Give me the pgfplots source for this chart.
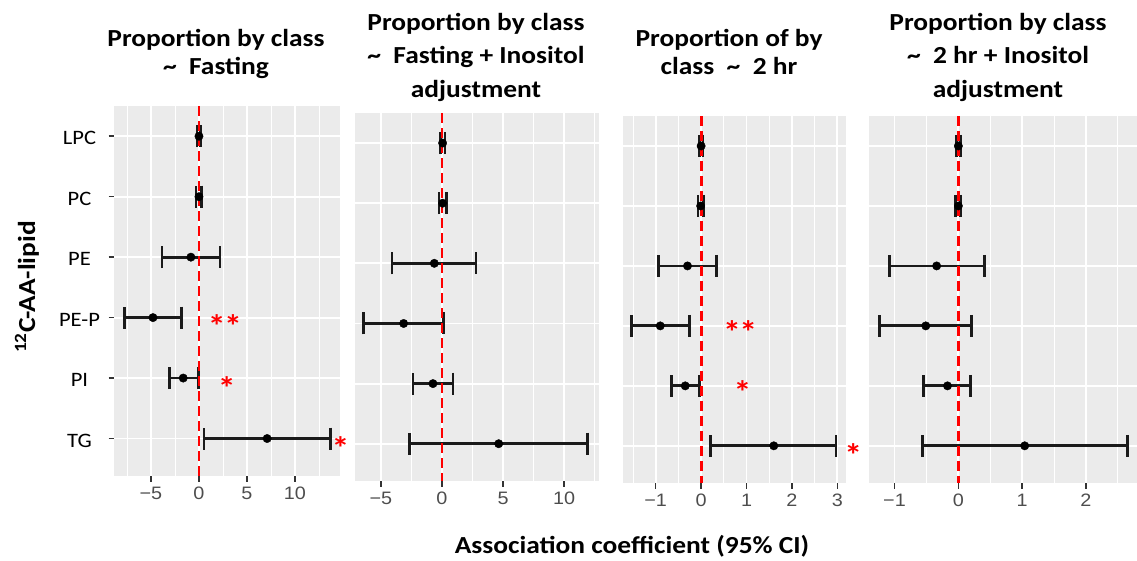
\documentclass[border=0pt]{standalone}
\usepackage{fontspec}
\setmainfont{Carlito}[FakeStretch=1.1]
\newfontfamily\titlefont{Carlito}[FakeStretch=1.12]
\newfontfamily\numfont{Liberation Sans}[FakeStretch=1.1]
\usepackage{pgfplots}
\usepackage{pgfplotstable}
\pgfplotsset{compat=1.18}
\definecolor{panelbg}{HTML}{EBEBEB}
\definecolor{tickgray}{HTML}{4D4D4D}
\definecolor{tickmark}{HTML}{333333}
\definecolor{sigred}{HTML}{FF0000}
\definecolor{barcol}{HTML}{1A1A1A}

% columns: category index, estimate, lower CI, upper CI
\pgfplotstableread{
y est lo hi
1 0.00 -0.20 0.20
2 0.00 -0.30 0.30
3 -0.84 -3.85 2.20
4 -4.79 -7.76 -1.82
5 -1.64 -3.04 -0.07
6 7.10 0.52 13.67
}\tabA
\pgfplotstableread{
y est lo hi
1 0.05 -0.15 0.25
2 0.05 -0.24 0.34
3 -0.63 -4.10 2.79
4 -3.14 -6.42 0.14
5 -0.74 -2.38 0.90
6 4.64 -2.68 11.94
}\tabB
\pgfplotstableread{
y est lo hi
1 0.00 -0.04 0.04
2 -0.01 -0.07 0.06
3 -0.30 -0.93 0.34
4 -0.90 -1.54 -0.26
5 -0.35 -0.65 -0.04
6 1.60 0.21 2.97
}\tabC
\pgfplotstableread{
y est lo hi
1 0.00 -0.03 0.03
2 0.00 -0.04 0.04
3 -0.34 -1.08 0.41
4 -0.51 -1.23 0.21
5 -0.17 -0.55 0.19
6 1.04 -0.56 2.65
}\tabD

\pgfplotsset{
  forest/.style={
    scale only axis, y dir=reverse, ymin=0.5, ymax=6.62, ytick={1,2,3,4,5,6},
    axis background/.style={fill=panelbg},
    axis line style={draw=none},
    grid=both,
    major grid style={white, line width=1.9pt},
    minor grid style={white, line width=0.9pt},
    tick align=outside, xtick pos=bottom, ytick pos=left,
    major tick length=5.5pt, minor tick length=0pt,
    tick style={tickmark, line width=1.5pt},
    xticklabel style={font=\numfont\fontsize{18}{20}\selectfont, text=tickgray, yshift=-2pt},
    clip=false,
  },
  noyt/.style={yticklabels={}, ytick style={draw=none}},
  eb/.style={only marks, mark=*, mark size=4.2pt, black, mark options={fill=black, draw=black},
    error bars/.cd, x dir=both, x explicit, error mark=|,
    error bar style={line width=2.8pt, barcol},
    error mark options={mark size=11pt, line width=2.8pt, barcol}},
  zero/.style={sigred, line width=2.8pt, dash pattern=on 10pt off 5pt, mark=none},
}
\tikzset{
  sig/.style={text=sigred, font=\titlefont\bfseries\fontsize{32}{32}\selectfont, anchor=center, yshift=-6pt, inner sep=0pt},
  ttl/.style={font=\titlefont\bfseries\fontsize{24.5}{28}\selectfont, anchor=base, inner sep=0pt},
}

\begin{document}
\begin{tikzpicture}
\useasboundingbox (0,0) rectangle (1137pt,-561pt);

% Panel 1
\begin{axis}[forest, at={(114pt,-476pt)}, anchor=south west, width=226pt, height=370pt,
  xmin=-8.85, xmax=14.69, xtick={-5,0,5,10}, xticklabels={−5,0,5,10},
  minor xtick={-7.5,-2.5,2.5,7.5,12.5},
  yticklabels={LPC,PC,PE,PE-P,PI,TG},
  yticklabel style={font=\fontsize{20.5}{22}\selectfont, anchor=center, xshift=-29pt, yshift=-2pt}]
\addplot+[eb] table[x=est, y=y, x error plus expr=\thisrow{hi}-\thisrow{est}, x error minus expr=\thisrow{est}-\thisrow{lo}] {\tabA};
\addplot[zero] coordinates {(0,0.5) (0,6.62)};
\node[sig] at (axis cs:2.7,4.04) {*\kern-1.5pt*};
\node[sig] at (axis cs:2.9,5.07) {*};
\node[sig] at (axis cs:14.75,6.06) {*};
\end{axis}

% Panel 2
\begin{axis}[forest, noyt, at={(355pt,-481pt)}, anchor=south west, width=244pt, height=368pt,
  xmin=-7.12, xmax=12.85, xtick={-5,0,5,10}, xticklabels={−5,0,5,10},
  minor xtick={-7.5,-2.5,2.5,7.5,12.5}]
\addplot+[eb] table[x=est, y=y, x error plus expr=\thisrow{hi}-\thisrow{est}, x error minus expr=\thisrow{est}-\thisrow{lo}] {\tabB};
\addplot[zero] coordinates {(0,0.5) (0,6.62)};
\end{axis}

% Panel 3
\begin{axis}[forest, noyt, at={(623pt,-483pt)}, anchor=south west, width=223pt, height=367pt,
  xmin=-1.72, xmax=3.19, xtick={-1,0,1,2,3}, xticklabels={−1,0,1,2,3},
  minor xtick={-1.5,-0.5,0.5,1.5,2.5}]
\addplot+[eb] table[x=est, y=y, x error plus expr=\thisrow{hi}-\thisrow{est}, x error minus expr=\thisrow{est}-\thisrow{lo}] {\tabC};
\addplot[zero] coordinates {(0,0.5) (0,6.62)};
\node[sig] at (axis cs:0.86,4.0) {*\kern-1.5pt*};
\node[sig] at (axis cs:0.91,5.0) {*};
\node[sig] at (axis cs:3.35,6.05) {*};
\end{axis}

% Panel 4
\begin{axis}[forest, noyt, at={(869pt,-483pt)}, anchor=south west, width=268pt, height=367pt,
  xmin=-1.40, xmax=2.80, xtick={-1,0,1,2}, xticklabels={−1,0,1,2},
  minor xtick={-0.5,0.5,1.5,2.5}]
\addplot+[eb] table[x=est, y=y, x error plus expr=\thisrow{hi}-\thisrow{est}, x error minus expr=\thisrow{est}-\thisrow{lo}] {\tabD};
\addplot[zero] coordinates {(0,0.5) (0,6.62)};
\end{axis}

% Titles
\node[ttl] at (216pt,-47pt) {Proportion by class};
\node[ttl] at (216pt,-75pt) {\textasciitilde\ \ Fasting};
\node[ttl] at (476pt,-31pt) {Proportion by class};
\node[ttl] at (476pt,-64pt) {\textasciitilde\ \ Fasting + Inositol};
\node[ttl] at (476pt,-98pt) {adjustment};
\node[ttl] at (729pt,-47pt) {Proportion of by};
\node[ttl] at (729pt,-75pt) {class\ \ \textasciitilde\ \ 2 hr};
\node[ttl] at (998pt,-31pt) {Proportion by class};
\node[ttl] at (998pt,-64pt) {\textasciitilde\ \ 2 hr + Inositol};
\node[ttl] at (998pt,-98pt) {adjustment};

% Axis labels
\node[ttl] at (632pt,-553pt) {Association coefficient (95\% CI)};
\node[font=\titlefont\bfseries\fontsize{24.5}{28}\selectfont, rotate=90, inner sep=0pt] at (27pt,-287pt) {\textsuperscript{12}C-AA-lipid};
\end{tikzpicture}
\end{document}
